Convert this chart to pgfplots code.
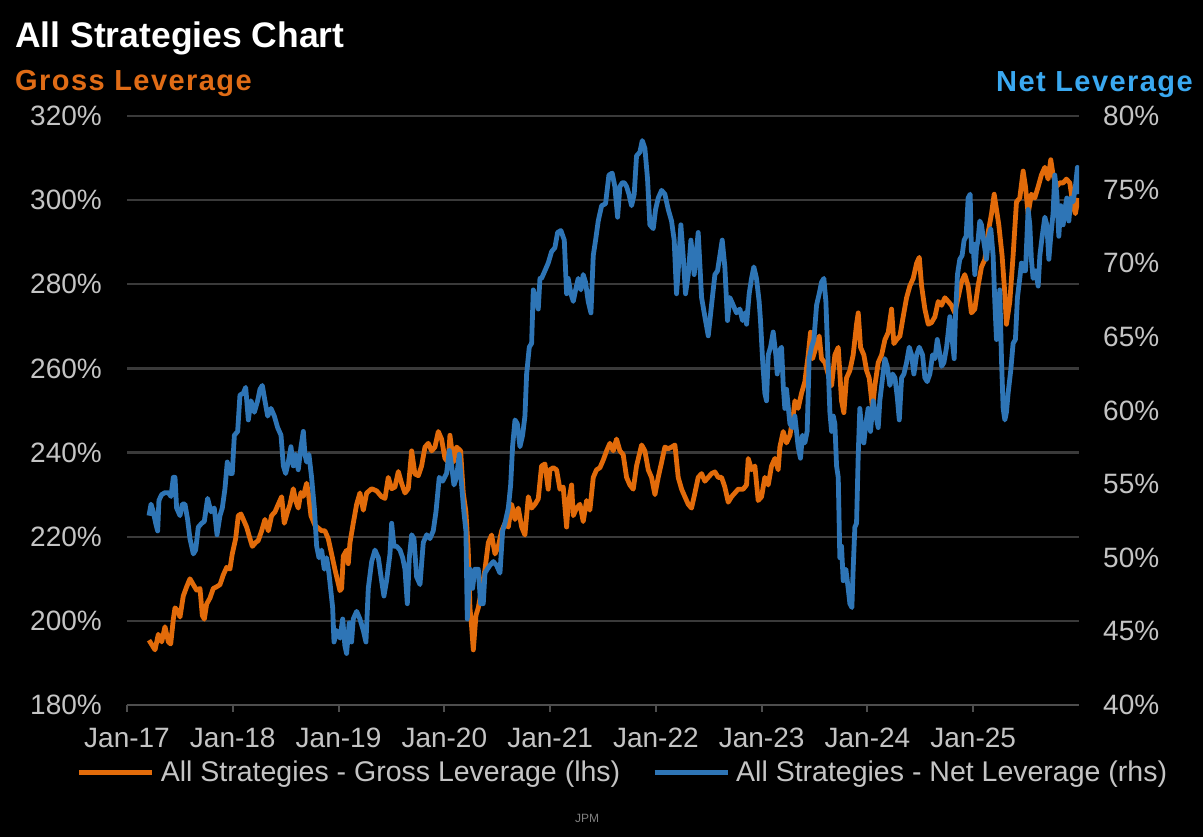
\documentclass[border=0pt]{standalone}
\usepackage{pgfplots}
\usepackage{pgfplotstable}
\pgfplotsset{compat=1.18}
\usepackage{fontspec}
\setmainfont{Liberation Sans}

\definecolor{grossorange}{RGB}{226,107,10}
\definecolor{netblue}{RGB}{46,117,182}
\definecolor{titleorange}{RGB}{224,108,22}
\definecolor{titleblue}{RGB}{58,168,240}
\definecolor{ticktext}{RGB}{196,196,196}
\definecolor{gridgray}{RGB}{58,58,58}
\definecolor{axisgray}{RGB}{78,78,78}

% All Strategies - Gross Leverage (lhs), %
\pgfplotstableread{
date gross
2017.208 195.4
2017.265 193.1
2017.296 196.8
2017.328 195.0
2017.359 198.6
2017.391 195.0
2017.413 194.5
2017.438 200.4
2017.454 203.1
2017.485 202.2
2017.501 200.9
2017.532 205.9
2017.564 208.1
2017.595 210.0
2017.627 208.6
2017.658 207.3
2017.690 207.7
2017.712 201.3
2017.731 200.4
2017.753 204.0
2017.784 205.4
2017.816 207.7
2017.847 208.1
2017.879 208.6
2017.910 210.9
2017.942 212.7
2017.973 212.3
2017.995 215.9
2018.027 219.5
2018.052 225.0
2018.077 225.4
2018.100 224.1
2018.131 222.3
2018.163 219.5
2018.185 217.7
2018.216 218.6
2018.241 219.1
2018.273 221.4
2018.304 224.1
2018.336 221.4
2018.367 225.0
2018.399 225.9
2018.430 227.7
2018.462 229.5
2018.487 223.2
2018.518 225.9
2018.541 227.7
2018.572 231.4
2018.594 228.6
2018.619 226.8
2018.644 230.5
2018.667 229.6
2018.698 232.7
2018.714 230.5
2018.739 225.0
2018.777 222.7
2018.840 221.4
2018.871 221.4
2018.903 219.5
2018.966 212.2
2019.013 207.2
2019.029 207.7
2019.045 215.4
2019.076 216.8
2019.092 213.6
2019.108 218.6
2019.139 223.2
2019.171 227.7
2019.202 230.4
2019.234 226.3
2019.266 230.4
2019.313 231.4
2019.360 230.9
2019.407 229.5
2019.439 229.1
2019.470 234.1
2019.502 231.4
2019.533 231.8
2019.565 235.5
2019.596 232.7
2019.628 230.4
2019.659 231.4
2019.691 240.4
2019.722 234.9
2019.754 234.5
2019.785 236.8
2019.817 241.3
2019.848 242.2
2019.880 240.4
2019.911 241.3
2019.943 245.0
2019.974 243.2
2020.006 238.6
2020.037 237.7
2020.053 244.1
2020.085 237.7
2020.116 241.3
2020.154 240.4
2020.179 230.4
2020.204 225.9
2020.226 216.8
2020.242 203.1
2020.258 198.6
2020.274 193.1
2020.299 201.3
2020.321 203.1
2020.353 207.7
2020.384 212.2
2020.416 218.6
2020.447 220.4
2020.479 215.9
2020.510 217.7
2020.542 221.4
2020.573 223.2
2020.605 222.3
2020.636 227.7
2020.668 224.1
2020.699 226.8
2020.731 222.3
2020.762 220.4
2020.794 229.5
2020.825 226.8
2020.857 227.7
2020.888 229.0
2020.919 236.8
2020.951 237.3
2020.982 231.3
2020.998 235.9
2021.030 236.4
2021.061 235.9
2021.093 231.3
2021.124 231.8
2021.156 222.3
2021.171 227.7
2021.203 232.3
2021.219 225.0
2021.250 226.8
2021.282 227.7
2021.313 223.6
2021.345 228.6
2021.376 226.3
2021.408 234.1
2021.439 235.9
2021.471 236.4
2021.502 238.2
2021.534 240.4
2021.565 242.2
2021.597 240.4
2021.628 243.2
2021.660 240.4
2021.691 239.5
2021.723 234.1
2021.754 232.3
2021.786 231.3
2021.817 236.8
2021.865 241.8
2021.896 240.4
2021.928 235.9
2021.959 234.1
2021.991 230.0
2022.022 234.1
2022.054 237.7
2022.085 241.3
2022.117 240.9
2022.148 241.3
2022.180 241.8
2022.211 234.1
2022.243 231.3
2022.274 229.5
2022.306 227.7
2022.337 226.8
2022.369 230.4
2022.400 234.1
2022.432 235.0
2022.463 233.2
2022.495 234.1
2022.526 235.0
2022.558 235.4
2022.589 234.1
2022.621 234.1
2022.652 231.8
2022.684 228.2
2022.715 229.5
2022.747 230.4
2022.778 231.3
2022.825 231.3
2022.857 232.3
2022.873 238.6
2022.904 235.9
2022.936 236.8
2022.967 228.6
2022.999 229.5
2023.030 234.1
2023.062 232.3
2023.093 236.8
2023.125 238.6
2023.156 235.9
2023.172 241.3
2023.204 245.0
2023.235 242.3
2023.267 244.1
2023.298 248.6
2023.314 252.3
2023.345 250.5
2023.377 254.1
2023.408 256.8
2023.440 263.2
2023.462 268.6
2023.481 262.3
2023.513 265.0
2023.544 267.7
2023.566 262.3
2023.598 261.4
2023.629 258.6
2023.661 255.9
2023.692 263.2
2023.724 265.0
2023.755 252.3
2023.777 249.5
2023.802 257.7
2023.834 259.5
2023.865 263.2
2023.897 270.5
2023.913 273.2
2023.935 265.0
2023.966 263.2
2023.992 259.5
2024.017 257.7
2024.048 250.5
2024.070 255.9
2024.102 261.4
2024.134 263.2
2024.165 266.8
2024.197 268.6
2024.228 274.1
2024.250 265.9
2024.275 266.8
2024.307 267.7
2024.338 272.3
2024.370 276.8
2024.401 279.6
2024.433 281.4
2024.465 285.0
2024.490 286.4
2024.512 279.6
2024.543 274.1
2024.575 270.5
2024.606 270.9
2024.638 272.3
2024.669 275.9
2024.701 275.0
2024.732 276.8
2024.764 275.9
2024.794 275.0
2024.826 273.2
2024.857 276.8
2024.889 280.5
2024.920 282.3
2024.952 279.6
2024.983 273.2
2025.015 274.1
2025.046 279.6
2025.078 284.1
2025.110 285.9
2025.141 292.3
2025.173 296.8
2025.198 301.4
2025.220 297.8
2025.242 294.1
2025.273 286.8
2025.299 277.7
2025.314 270.5
2025.346 275.9
2025.377 286.8
2025.409 299.6
2025.440 300.5
2025.472 306.9
2025.494 303.2
2025.519 296.8
2025.550 301.4
2025.582 300.5
2025.614 303.2
2025.645 306.0
2025.677 307.8
2025.708 305.0
2025.733 309.6
2025.755 306.0
2025.787 303.2
2025.818 304.1
2025.850 304.1
2025.881 305.0
2025.913 304.1
2025.944 298.7
2025.966 296.8
2025.992 300.5
}\grossdata

% All Strategies - Net Leverage (rhs), %
\pgfplotstableread{
date net
2017.208 52.86
2017.227 53.64
2017.249 53.12
2017.271 52.34
2017.290 51.82
2017.302 53.90
2017.328 54.29
2017.359 54.42
2017.391 54.42
2017.416 54.16
2017.438 55.46
2017.454 55.46
2017.469 53.38
2017.501 52.86
2017.523 53.64
2017.548 53.64
2017.573 52.60
2017.595 51.30
2017.627 50.26
2017.649 50.52
2017.674 52.08
2017.706 52.34
2017.731 52.47
2017.762 54.03
2017.794 53.12
2017.825 53.38
2017.851 51.56
2017.879 52.86
2017.901 53.38
2017.926 54.68
2017.948 56.50
2017.973 55.72
2017.995 55.72
2018.015 58.32
2018.046 58.58
2018.068 61.05
2018.100 61.18
2018.122 61.57
2018.147 59.36
2018.172 60.66
2018.204 59.88
2018.235 60.66
2018.257 61.44
2018.279 61.70
2018.304 60.66
2018.330 59.62
2018.361 60.14
2018.393 59.62
2018.424 58.84
2018.456 58.32
2018.478 56.24
2018.500 55.72
2018.525 56.50
2018.550 57.54
2018.572 56.24
2018.594 57.02
2018.619 55.98
2018.645 57.54
2018.667 58.58
2018.682 57.02
2018.698 56.50
2018.720 57.02
2018.745 55.46
2018.771 53.38
2018.793 50.78
2018.815 50.00
2018.840 50.52
2018.865 49.22
2018.887 50.00
2018.909 48.96
2018.944 46.62
2018.957 44.28
2018.982 45.06
2019.013 44.54
2019.039 45.84
2019.060 44.02
2019.076 43.50
2019.101 45.58
2019.123 44.28
2019.139 45.84
2019.171 46.36
2019.202 45.84
2019.234 45.06
2019.259 44.28
2019.281 47.92
2019.313 49.74
2019.344 50.52
2019.376 50.00
2019.407 48.44
2019.429 47.40
2019.454 48.44
2019.486 50.26
2019.502 52.34
2019.524 50.78
2019.549 50.78
2019.581 50.52
2019.606 50.00
2019.628 49.22
2019.650 46.88
2019.669 50.00
2019.691 51.56
2019.713 51.30
2019.738 48.70
2019.770 48.18
2019.801 51.04
2019.833 51.56
2019.864 51.30
2019.895 51.82
2019.921 53.12
2019.952 55.46
2019.984 55.20
2020.021 55.72
2020.047 57.28
2020.069 56.24
2020.091 54.94
2020.116 55.46
2020.141 57.02
2020.163 54.94
2020.185 53.12
2020.204 51.82
2020.217 45.84
2020.242 49.22
2020.267 47.92
2020.289 49.22
2020.321 49.22
2020.343 46.88
2020.368 46.88
2020.384 48.96
2020.406 49.22
2020.431 49.48
2020.463 49.74
2020.494 49.48
2020.526 48.96
2020.551 51.82
2020.573 52.34
2020.605 53.38
2020.627 54.94
2020.645 57.54
2020.668 59.36
2020.690 59.10
2020.715 57.54
2020.740 58.32
2020.762 59.62
2020.778 62.48
2020.803 64.30
2020.825 64.56
2020.841 68.19
2020.863 67.67
2020.888 66.89
2020.904 68.97
2020.919 68.97
2020.951 69.49
2020.982 70.01
2021.014 70.79
2021.045 71.05
2021.071 72.09
2021.102 72.22
2021.134 71.57
2021.156 67.93
2021.171 68.97
2021.197 67.93
2021.219 67.41
2021.241 68.19
2021.266 68.97
2021.291 68.19
2021.313 69.23
2021.335 68.71
2021.360 67.41
2021.386 66.63
2021.408 70.53
2021.430 71.57
2021.455 72.87
2021.487 73.91
2021.524 74.04
2021.556 75.99
2021.587 76.12
2021.612 75.21
2021.638 73.13
2021.660 75.21
2021.682 75.47
2021.701 75.47
2021.723 75.21
2021.745 74.69
2021.770 73.91
2021.795 74.69
2021.817 77.29
2021.849 77.55
2021.871 78.33
2021.896 77.81
2021.921 75.73
2021.943 72.61
2021.975 72.35
2021.997 73.65
2022.022 74.43
2022.054 74.95
2022.085 74.69
2022.117 73.65
2022.148 72.87
2022.173 71.57
2022.195 67.93
2022.211 69.49
2022.236 72.61
2022.258 70.53
2022.280 67.93
2022.306 69.23
2022.331 71.57
2022.362 69.23
2022.400 72.09
2022.432 67.67
2022.463 66.37
2022.495 65.07
2022.526 67.15
2022.558 69.23
2022.583 69.49
2022.605 70.53
2022.627 71.57
2022.652 69.75
2022.677 66.11
2022.699 67.67
2022.731 67.15
2022.762 66.63
2022.794 66.89
2022.819 66.11
2022.841 66.63
2022.857 65.86
2022.882 67.93
2022.904 68.97
2022.926 69.75
2022.951 68.97
2022.976 67.41
2022.989 66.11
2023.008 63.52
2023.030 61.18
2023.046 60.66
2023.062 63.78
2023.084 64.30
2023.109 65.33
2023.134 63.78
2023.147 62.48
2023.166 64.04
2023.188 64.30
2023.204 61.70
2023.219 60.14
2023.235 61.44
2023.267 59.10
2023.292 58.84
2023.314 59.62
2023.345 57.54
2023.367 56.76
2023.386 58.32
2023.408 57.80
2023.430 58.58
2023.449 63.52
2023.471 64.30
2023.494 64.82
2023.519 67.15
2023.544 67.93
2023.566 68.71
2023.588 68.97
2023.607 67.41
2023.620 64.82
2023.633 62.22
2023.645 59.88
2023.661 58.58
2023.677 59.62
2023.692 59.10
2023.708 56.24
2023.724 55.46
2023.739 50.00
2023.755 50.78
2023.771 48.44
2023.796 49.22
2023.818 47.92
2023.834 46.88
2023.853 46.62
2023.865 49.22
2023.881 52.08
2023.897 52.34
2023.913 57.02
2023.928 60.14
2023.944 58.84
2023.966 57.80
2023.985 59.10
2024.007 60.14
2024.029 58.58
2024.054 60.66
2024.080 59.62
2024.102 58.84
2024.117 60.66
2024.143 62.22
2024.165 63.52
2024.187 63.00
2024.212 61.70
2024.238 62.48
2024.260 62.22
2024.282 60.92
2024.301 59.36
2024.323 62.22
2024.345 62.48
2024.370 63.26
2024.395 64.30
2024.417 63.78
2024.439 62.48
2024.465 63.78
2024.490 64.30
2024.521 63.78
2024.543 62.22
2024.565 61.96
2024.590 62.48
2024.616 63.78
2024.638 63.52
2024.660 64.82
2024.679 64.04
2024.701 63.00
2024.723 63.26
2024.748 64.30
2024.764 65.33
2024.779 66.37
2024.801 64.82
2024.820 63.52
2024.832 66.37
2024.851 69.23
2024.873 70.27
2024.895 70.53
2024.914 71.57
2024.933 71.83
2024.952 74.43
2024.971 74.69
2024.983 70.79
2024.999 71.31
2025.015 69.23
2025.031 71.05
2025.046 71.57
2025.062 72.87
2025.078 72.61
2025.103 71.31
2025.125 70.27
2025.147 71.83
2025.166 72.35
2025.188 70.53
2025.204 67.41
2025.220 64.82
2025.236 66.37
2025.251 68.19
2025.267 63.52
2025.283 60.14
2025.299 59.36
2025.314 59.88
2025.330 61.18
2025.355 62.74
2025.377 64.56
2025.399 64.82
2025.418 67.67
2025.440 68.97
2025.456 70.01
2025.472 69.49
2025.494 69.49
2025.519 73.65
2025.535 72.61
2025.550 70.27
2025.566 68.97
2025.588 69.49
2025.614 68.45
2025.630 70.53
2025.652 71.83
2025.677 73.13
2025.696 72.61
2025.715 70.27
2025.733 71.83
2025.755 73.39
2025.771 75.99
2025.790 74.69
2025.809 71.83
2025.828 73.91
2025.850 72.61
2025.866 73.65
2025.885 74.43
2025.904 72.87
2025.923 74.43
2025.944 74.17
2025.966 75.21
2025.985 76.51
2025.998 74.69
}\netdata

\begin{document}
\begin{tikzpicture}
\path[use as bounding box, fill=black] (0pt,0pt) rectangle (1203pt,837pt);

\node[anchor=base west, inner sep=0pt, text=white, font=\fontsize{35.5}{40}\selectfont\bfseries]
  at (15pt,789pt) {All Strategies Chart};
\node[anchor=base west, inner sep=0pt, text=titleorange, font=\fontsize{29}{34}\selectfont\bfseries\addfontfeature{LetterSpace=5}]
  at (15pt,746pt) {Gross Leverage};
\node[anchor=base east, inner sep=0pt, text=titleblue, font=\fontsize{29}{34}\selectfont\bfseries\addfontfeature{LetterSpace=5}]
  at (1193pt,745pt) {Net Leverage};
\node[inner sep=0pt, text=gray, font=\fontsize{12}{14}\selectfont] at (587pt,19pt) {JPM};

\begin{axis}[
  at={(127pt,132pt)}, anchor=south west,
  width=952pt, height=589pt, scale only axis,
  xmin=2017, xmax=2026, ymin=180, ymax=320,
  axis x line*=bottom, axis y line*=left,
  x axis line style={draw=axisgray, line width=2pt, -},
  y axis line style={draw=none},
  xtick={2017,2018,2019,2020,2021,2022,2023,2024,2025},
  xticklabels={Jan-17,Jan-18,Jan-19,Jan-20,Jan-21,Jan-22,Jan-23,Jan-24,Jan-25},
  ytick={180,200,220,240,260,280,300,320},
  yticklabels={180\%,200\%,220\%,240\%,260\%,280\%,300\%,320\%},
  ymajorgrids, grid style={draw=gridgray, line width=2.2pt},
  tick align=outside, major tick length=7pt,
  xtick style={draw=axisgray, line width=2pt},
  ytick style={draw=none},
  tick label style={font=\fontsize{28}{30}\selectfont, text=ticktext},
  yticklabel style={anchor=east, inner sep=0pt, xshift=-18pt},
  xticklabel style={anchor=north, inner sep=0pt, yshift=-16pt},
]
\addplot[grossorange, line width=4.8pt, line join=round] table[x=date, y=gross] {\grossdata};
\end{axis}

\begin{axis}[
  at={(127pt,132pt)}, anchor=south west,
  width=952pt, height=589pt, scale only axis,
  xmin=2017, xmax=2026, ymin=40, ymax=80,
  axis x line=none, axis y line*=right,
  y axis line style={draw=none},
  ytick={40,45,50,55,60,65,70,75,80},
  yticklabels={40\%,45\%,50\%,55\%,60\%,65\%,70\%,75\%,80\%},
  ytick style={draw=none}, major tick length=7pt,
  tick label style={font=\fontsize{28}{30}\selectfont, text=ticktext},
  yticklabel style={anchor=west, inner sep=0pt, xshift=24pt},
  legend columns=2,
  legend style={at={(0.521,-0.114)}, anchor=center, draw=none, fill=none,
    text=ticktext, font=\fontsize{28.5}{30}\selectfont,
    /tikz/every odd column/.append style={column sep=4pt},
    /tikz/every even column/.append style={column sep=30pt}},
  legend image code/.code={\draw[#1, line width=5pt] (0pt,0pt) -- (73pt,0pt);},
]
\addlegendimage{grossorange}
\addlegendentry{All Strategies - Gross Leverage (lhs)}
\addplot[netblue, line width=4.8pt, line join=round] table[x=date, y=net] {\netdata};
\addlegendentry{All Strategies - Net Leverage (rhs)}
\end{axis}
\end{tikzpicture}
\end{document}
